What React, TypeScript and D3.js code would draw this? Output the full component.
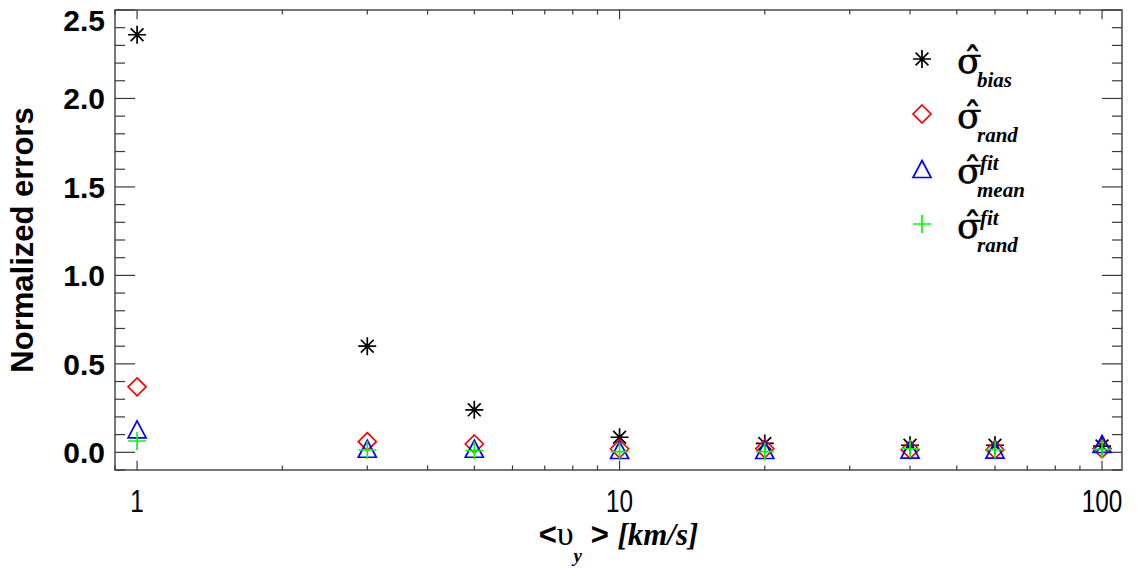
import * as d3 from 'd3';

// velocities <v_y> in km/s
const velocities = [1, 3, 5, 10, 20, 40, 60, 100];
const sigmaBias = [2.36, 0.6, 0.24, 0.085, 0.05, 0.04, 0.04, 0.035];
const sigmaRand = [0.37, 0.06, 0.047, 0.02, 0.02, 0.015, 0.015, 0.02];
const sigmaFitMean = [0.13, 0.02, 0.02, 0.013, 0.013, 0.015, 0.015, 0.047];
const sigmaFitRand = [0.064, 0.013, 0.01, 0.004, 0.004, 0.02, 0.015, 0.017];

const yTicks = [0, 0.5, 1, 1.5, 2, 2.5];
const xTickLabels = ['1', '10', '100'];

const W = 1143;
const H = 568;
const margin = { top: 10, right: 21, bottom: 98, left: 115 };

const seriesList = [
  { name: 'bias', sup: '', sub: 'bias', values: sigmaBias, color: '#000000', symbol: 'star' },
  { name: 'rand', sup: '', sub: 'rand', values: sigmaRand, color: '#ff0000', symbol: 'diamond' },
  { name: 'fitMean', sup: 'fit', sub: 'mean', values: sigmaFitMean, color: '#0000ff', symbol: 'triangle' },
  { name: 'fitRand', sup: 'fit', sub: 'rand', values: sigmaFitRand, color: '#00ff00', symbol: 'plus' },
];

const symbolPath = (kind: string) => {
  switch (kind) {
    case 'star':
      return 'M0,-9V9M-9,0H9M-6.4,-6.4L6.4,6.4M-6.4,6.4L6.4,-6.4';
    case 'diamond':
      return 'M0,-9L9,0L0,9L-9,0Z';
    case 'triangle':
      return 'M0,-8.5L9,8.5L-9,8.5Z';
    default:
      return 'M-9,0H9M0,-9V9';
  }
};

export default function App() {
  const x0 = margin.left;
  const x1 = W - margin.right;
  const y0 = H - margin.bottom;
  const y1 = margin.top;

  const x = d3.scaleLog().domain([0.9, 110]).range([x0, x1]);
  const y = d3.scaleLinear().domain([-0.1, 2.5]).range([y0, y1]);

  const plotW = x1 - x0;
  const plotH = y0 - y1;
  const xMajorLen = plotH * 0.02;
  const yMajorLen = plotW * 0.02;

  const xMajor = [1, 10, 100];
  const xMinor = x.ticks().filter((t) => !xMajor.includes(t) && t >= 0.9 && t <= 110);
  const yMinor = d3.range(-1, 26).map((i) => i / 10).filter((t) => Math.round(t * 10) % 5 !== 0);

  const axisColor = '#3a3a3a';

  return (
    <svg width={W} height={H} style={{ display: 'block', position: 'absolute', left: 0, top: 0 }}>
      <rect width={W} height={H} fill="white" />

      {/* frame */}
      <rect x={x0} y={y1} width={plotW} height={plotH} fill="none" stroke="#555" strokeWidth={1.6} />

      {/* ticks on all four sides */}
      <g stroke={axisColor} strokeWidth={1.2}>
        {xMajor.map((t) => (
          <g key={'xM' + t}>
            <line x1={x(t)} x2={x(t)} y1={y0} y2={y0 - xMajorLen} />
            <line x1={x(t)} x2={x(t)} y1={y1} y2={y1 + xMajorLen} />
          </g>
        ))}
        {xMinor.map((t) => (
          <g key={'xm' + t}>
            <line x1={x(t)} x2={x(t)} y1={y0} y2={y0 - xMajorLen / 2} />
            <line x1={x(t)} x2={x(t)} y1={y1} y2={y1 + xMajorLen / 2} />
          </g>
        ))}
        {yTicks.map((t) => (
          <g key={'yM' + t}>
            <line x1={x0} x2={x0 + yMajorLen} y1={y(t)} y2={y(t)} />
            <line x1={x1} x2={x1 - yMajorLen} y1={y(t)} y2={y(t)} />
          </g>
        ))}
        {yMinor.map((t) => (
          <g key={'ym' + t}>
            <line x1={x0} x2={x0 + yMajorLen / 2} y1={y(t)} y2={y(t)} />
            <line x1={x1} x2={x1 - yMajorLen / 2} y1={y(t)} y2={y(t)} />
          </g>
        ))}
      </g>

      {/* y tick labels */}
      <g fontFamily="'Liberation Sans', Arial, sans-serif" fontWeight="bold" fontSize={30} textAnchor="end">
        {yTicks.map((t) => (
          <text key={'yl' + t} x={x0 - 10} y={Math.max(y(t), 20)} dy="0.36em">
            {t.toFixed(1)}
          </text>
        ))}
      </g>

      {/* x tick labels */}
      <g fontFamily="'Liberation Sans', Arial, sans-serif" fontSize={32} textAnchor="middle">
        {xMajor.map((t, i) => (
          <text
            key={'xl' + t}
            x={x(t)}
            y={y0 + 42}
            textLength={xTickLabels[i].length * 13.5}
            lengthAdjust="spacingAndGlyphs"
          >
            {xTickLabels[i]}
          </text>
        ))}
      </g>

      {/* axis titles */}
      <text
        transform={`translate(33, ${(y0 + y1) / 2}) rotate(-90)`}
        textAnchor="middle"
        fontFamily="'Liberation Sans', Arial, sans-serif"
        fontWeight="bold"
        fontSize={31}
      >
        Normalized errors
      </text>
      <text x={(x0 + x1) / 2} y={y0 + 75} textAnchor="middle" fontSize={31}>
        <tspan fontFamily="'Liberation Sans', Arial, sans-serif" fontWeight="bold">{'<'}</tspan>
        <tspan fontFamily="'Liberation Serif', serif" fontSize={34}>{'\u03C5'}</tspan>
        <tspan fontFamily="'Liberation Serif', serif" fontStyle="italic" fontWeight="bold" fontSize={19} dy={17}>
          y
        </tspan>
        <tspan fontFamily="'Liberation Sans', Arial, sans-serif" fontWeight="bold" dy={-17}>
          {' > '}
        </tspan>
        <tspan fontFamily="'Liberation Serif', serif" fontStyle="italic" fontWeight="bold">
          [km/s]
        </tspan>
      </text>

      {/* data points */}
      {seriesList.map((s) => (
        <g key={s.name} fill="none" stroke={s.color} strokeWidth={1.7}>
          {velocities.map((v, i) => (
            <path key={v} d={symbolPath(s.symbol)} transform={`translate(${x(v)},${y(s.values[i])})`} />
          ))}
        </g>
      ))}

      {/* legend */}
      {seriesList.map((s, i) => {
        const ly = 59 + i * 55;
        return (
          <g key={'lg' + s.name}>
            <path
              d={symbolPath(s.symbol)}
              transform={`translate(922,${ly})`}
              fill="none"
              stroke={s.color}
              strokeWidth={1.7}
            />
            <text
              x={957}
              y={ly + 14}
              fontFamily="'DejaVu Serif', serif"
              fontSize={36}
              stroke="black"
              strokeWidth={0.5}
            >
              {'\u03C3\u0302'}
            </text>
            {s.sup && (
              <text
                x={980}
                y={ly + 1}
                fontFamily="'Liberation Serif', serif"
                fontStyle="italic"
                fontWeight="bold"
                fontSize={21}
              >
                {s.sup}
              </text>
            )}
            <text
              x={977}
              y={ly + 28}
              fontFamily="'Liberation Serif', serif"
              fontStyle="italic"
              fontWeight="bold"
              fontSize={21}
            >
              {s.sub}
            </text>
          </g>
        );
      })}
    </svg>
  );
}
